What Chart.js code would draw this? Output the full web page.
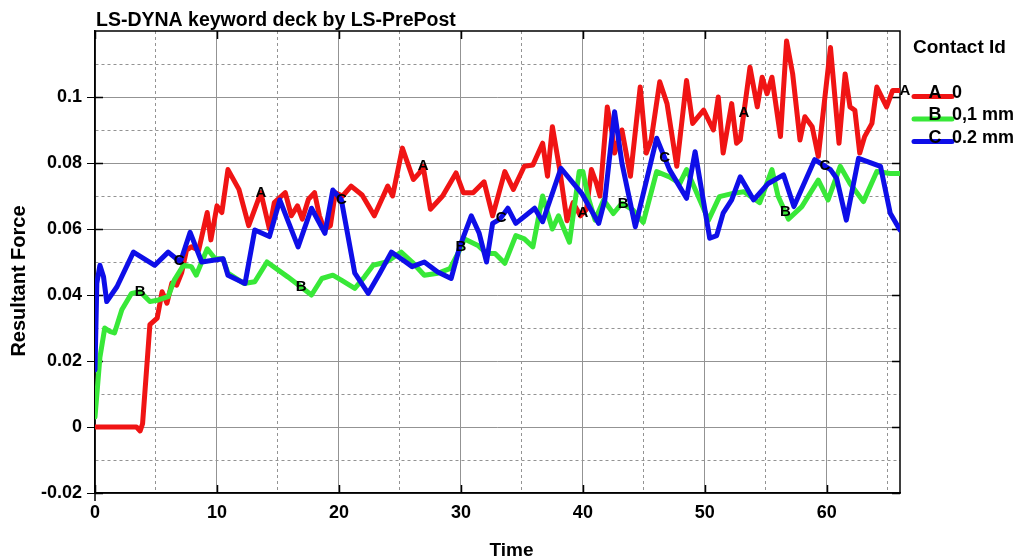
<!DOCTYPE html>
<html>
<head>
<meta charset="utf-8">
<script src="https://cdn.jsdelivr.net/npm/chart.js@4.4.0/dist/chart.umd.min.js"></script>
<style>
  html, body { margin: 0; padding: 0; background: #fff; overflow: hidden; }
  #wrap { width: 1025px; height: 558px; position: relative; }
</style>
</head>
<body>
<div id="wrap"><canvas id="c" width="1025" height="558"></canvas></div>
<script>
// Contact force histories (time, resultant force) for three contact ids
const timeA = [0,3.4,3.7,3.9,4.5,5.1,5.5,5.9,6.3,6.7,7.1,7.5,7.9,8.5,9.2,9.5,10.0,10.4,10.9,11.8,12.6,13.1,13.6,14.3,14.7,15.6,16.1,16.6,17.0,17.5,18.0,18.4,18.8,19.3,19.7,20.3,21.0,21.9,22.9,24.0,24.4,25.2,26.1,26.6,26.9,27.5,28.5,29.6,30.2,31.0,31.9,32.6,33.6,34.3,35.2,35.9,36.7,37.1,37.5,38.1,38.7,39.2,39.8,40.3,40.7,41.1,41.4,42.0,42.4,42.6,43.2,43.9,44.7,45.2,45.6,46.3,46.9,47.7,48.5,49.0,49.9,50.7,51.1,51.5,52.2,52.6,52.9,53.7,54.3,54.7,55.1,55.5,56.2,56.7,57.2,57.8,58.2,58.8,59.3,60.3,61.0,61.5,61.9,62.3,62.7,63.1,63.7,64.1,64.9,65.4,66.0];
const forceA = [0,0,-0.0012,0.001,0.031,0.033,0.041,0.0375,0.0436,0.043,0.0467,0.0536,0.0546,0.0536,0.065,0.0567,0.067,0.065,0.078,0.072,0.061,0.066,0.071,0.060,0.068,0.071,0.064,0.067,0.063,0.069,0.071,0.064,0.060,0.061,0.071,0.070,0.073,0.0703,0.064,0.073,0.070,0.0845,0.075,0.077,0.079,0.066,0.070,0.077,0.071,0.071,0.0743,0.064,0.0774,0.072,0.079,0.0794,0.086,0.076,0.091,0.078,0.0625,0.068,0.064,0.066,0.078,0.074,0.070,0.097,0.089,0.083,0.090,0.076,0.103,0.083,0.087,0.1046,0.098,0.079,0.105,0.092,0.096,0.090,0.100,0.083,0.098,0.086,0.087,0.109,0.097,0.106,0.101,0.106,0.088,0.117,0.107,0.087,0.094,0.091,0.082,0.115,0.086,0.107,0.097,0.096,0.083,0.088,0.092,0.103,0.097,0.102,0.102];

const timeB = [0,0.4,0.8,1.2,1.6,2.2,3.0,3.7,4.5,5.2,6.0,6.5,7.25,7.9,8.3,9.2,9.85,10.5,10.9,12.2,13.1,14.1,15.8,17.75,18.6,19.5,20.2,21.3,22.1,22.8,23.9,25.1,26.0,27.0,28.1,29.1,29.9,30.3,31.4,32.1,32.8,33.6,34.5,35.2,35.9,36.7,37.5,38.0,38.9,39.7,40.0,40.4,41.0,41.7,42.5,43.2,44.1,44.95,46.05,47.1,47.95,48.5,50.3,51.2,52.3,53.2,54.5,55.5,56.0,56.85,57.95,59.3,60.1,61.1,61.9,63.0,64.1,65.2,66.0];
const forceB = [0.003,0.021,0.030,0.029,0.0285,0.0355,0.0405,0.041,0.038,0.0385,0.0395,0.0445,0.049,0.0486,0.046,0.054,0.051,0.051,0.0466,0.0435,0.044,0.050,0.0455,0.040,0.045,0.046,0.0445,0.042,0.0455,0.049,0.050,0.053,0.050,0.046,0.0466,0.048,0.0536,0.057,0.055,0.0526,0.0526,0.0496,0.058,0.057,0.0546,0.070,0.060,0.064,0.056,0.0774,0.0774,0.070,0.0627,0.0688,0.0647,0.0678,0.0658,0.062,0.0774,0.0758,0.0738,0.078,0.0627,0.0698,0.0708,0.0713,0.068,0.078,0.070,0.063,0.0668,0.0748,0.0688,0.079,0.0738,0.0683,0.0774,0.0768,0.0768];

const timeC = [0,0.15,0.4,0.7,0.96,1.8,3.15,4.9,6.0,7.0,7.8,8.75,10.5,10.9,12.3,13.1,14.3,15.15,16.65,17.75,18.85,19.5,20.2,21.3,22.4,23.35,24.3,25.1,26.0,27.0,28.1,29.2,29.9,30.85,31.5,32.1,32.6,33.2,33.85,34.5,36.05,36.7,38.2,39.9,41.3,41.8,42.6,43.2,44.3,46.05,47.1,48.5,49.2,50.4,50.97,51.5,52.2,52.9,54.0,55.2,56.45,57.3,59.0,60.3,60.8,61.6,62.6,64.4,65.2,66.0];
const forceC = [0.0173,0.0435,0.049,0.0455,0.038,0.0425,0.053,0.049,0.053,0.050,0.059,0.050,0.051,0.046,0.0435,0.0597,0.0577,0.0688,0.0546,0.0663,0.0587,0.0718,0.0688,0.0466,0.0405,0.0466,0.053,0.051,0.0486,0.050,0.047,0.045,0.0546,0.064,0.0587,0.050,0.0617,0.063,0.0663,0.0617,0.0663,0.0622,0.0784,0.0708,0.0617,0.0688,0.0955,0.080,0.0607,0.0875,0.078,0.0693,0.0834,0.0572,0.058,0.0648,0.0688,0.0758,0.0688,0.0738,0.0764,0.0668,0.081,0.078,0.0754,0.0627,0.0814,0.079,0.0648,0.0597];

// Times at which each curve carries its id letter
const tagTimesA = [13.6, 26.9, 40.0, 53.2, 66.4];
const tagTimesB = [3.7, 16.9, 30.0, 43.3, 56.6];
const tagTimesC = [6.9, 20.2, 33.3, 46.7, 59.85];

const seriesTags = ['A', 'B', 'C'];
const seriesNames = ['0', '0,1 mm', '0.2 mm'];

// Labelled tick values
const xMajor = [0, 10, 20, 30, 40, 50, 60];
const yMajor = [-0.02, 0, 0.02, 0.04, 0.06, 0.08, 0.1];

const chartTitle = 'LS-DYNA keyword deck by LS-PrePost';
const xTitle = 'Time';
const yTitle = 'Resultant Force';
const legendTitle = 'Contact Id';

const FONT = "'Liberation Sans', Arial, Helvetica, sans-serif";
const colors = ['#f01414', '#38e838', '#0e0ee8'];

const isXMajor = v => xMajor.some(m => Math.abs(m - v) < 1e-6);
const isYMajor = v => yMajor.some(m => Math.abs(m - v) < 1e-6);
const fmtY = v => String(Number(v.toFixed(2)));

function valueAt(ts, vs, t) {
  if (t <= ts[0]) return vs[0];
  if (t >= ts[ts.length - 1]) return vs[vs.length - 1];
  for (let i = 1; i < ts.length; i++) {
    if (t <= ts[i]) {
      const f = (t - ts[i - 1]) / (ts[i] - ts[i - 1]);
      return vs[i - 1] + f * (vs[i] - vs[i - 1]);
    }
  }
  return vs[vs.length - 1];
}

const curves = [
  { t: timeA, v: forceA, tags: tagTimesA },
  { t: timeB, v: forceB, tags: tagTimesB },
  { t: timeC, v: forceC, tags: tagTimesC }
];

const decorations = {
  id: 'decorations',
  beforeDatasetsDraw(chart) {
    const { ctx, chartArea: a, scales: { x, y } } = chart;
    ctx.save();
    ctx.strokeStyle = '#000';
    ctx.lineWidth = 1.5;
    ctx.strokeRect(a.left, a.top, a.right - a.left, a.bottom - a.top);
    ctx.beginPath();
    xMajor.forEach(v => {
      const px = Math.round(x.getPixelForValue(v)) + 0.5;
      ctx.moveTo(px, a.bottom); ctx.lineTo(px, a.bottom - 8);
      ctx.moveTo(px, a.top); ctx.lineTo(px, a.top + 8);
    });
    yMajor.forEach(v => {
      const py = Math.round(y.getPixelForValue(v)) + 0.5;
      ctx.moveTo(a.left, py); ctx.lineTo(a.left + 8, py);
      ctx.moveTo(a.right, py); ctx.lineTo(a.right - 8, py);
    });
    ctx.moveTo(a.left, a.bottom); ctx.lineTo(a.left, a.bottom + 8);
    ctx.stroke();
    ctx.restore();
  },
  afterDatasetsDraw(chart) {
    const { ctx, scales: { x, y } } = chart;
    ctx.save();
    ctx.fillStyle = '#000';
    ctx.font = 'bold 15px ' + FONT;
    ctx.textAlign = 'center';
    ctx.textBaseline = 'middle';
    curves.forEach((c, i) => {
      c.tags.forEach(t => {
        const px = x.getPixelForValue(t);
        const py = y.getPixelForValue(valueAt(c.t, c.v, t));
        ctx.fillText(seriesTags[i], px, py);
      });
    });
    ctx.restore();
  },
  afterDraw(chart) {
    const { ctx, chartArea: a } = chart;
    ctx.save();
    ctx.fillStyle = '#000';
    ctx.textBaseline = 'alphabetic';
    ctx.textAlign = 'left';
    ctx.font = 'bold 19.5px ' + FONT;
    ctx.fillText(chartTitle, a.left + 1, 26);

    ctx.font = 'bold 19px ' + FONT;
    ctx.textAlign = 'center';
    ctx.fillText(xTitle, (a.left + a.right) / 2 + 14, 556);

    ctx.save();
    ctx.font = 'bold 20px ' + FONT;
    ctx.translate(25, (a.top + a.bottom) / 2 + 19);
    ctx.rotate(-Math.PI / 2);
    ctx.fillText(yTitle, 0, 0);
    ctx.restore();

    // legend
    const lx = a.right + 12;
    ctx.font = 'bold 19px ' + FONT;
    ctx.textAlign = 'left';
    ctx.fillText(legendTitle, lx + 1, 53);
    ctx.font = 'bold 18px ' + FONT;
    seriesNames.forEach((name, i) => {
      const ly = 96.5 + i * 22.5;
      ctx.strokeStyle = colors[i];
      ctx.lineWidth = 5;
      ctx.lineCap = 'round';
      ctx.beginPath();
      ctx.moveTo(lx + 2, ly); ctx.lineTo(lx + 40, ly);
      ctx.stroke();
      ctx.fillStyle = '#000';
      ctx.textAlign = 'center';
      ctx.fillText(seriesTags[i], lx + 23, ly + 1);
      ctx.textAlign = 'left';
      ctx.fillText(name, lx + 40, ly + 1);
    });
    ctx.restore();
  }
};

const gridColor = '#939393';

new Chart(document.getElementById('c'), {
  type: 'line',
  data: {
    datasets: curves.map((c, i) => ({
      label: seriesNames[i],
      data: c.t.map((t, k) => ({ x: t, y: c.v[k] })),
      borderColor: colors[i],
      backgroundColor: colors[i],
      borderWidth: 5,
      pointRadius: 0,
      tension: 0,
      fill: false,
      borderJoinStyle: 'round',
      borderCapStyle: 'round',
      order: 3 - i
    }))
  },
  options: {
    responsive: false,
    animation: false,
    devicePixelRatio: 1,
    layout: { padding: { top: 31, right: 125, left: 0, bottom: 0 } },
    plugins: { legend: { display: false }, tooltip: { enabled: false }, title: { display: false } },
    scales: {
      x: {
        type: 'linear',
        min: 0,
        max: 66,
        afterFit(s) { s.height = 65; },
        ticks: {
          stepSize: 5,
          includeBounds: false,
          autoSkip: false,
          maxRotation: 0,
          padding: 9,
          color: '#000',
          font: { family: FONT, size: 18, weight: 'bold' },
          callback: v => (isXMajor(v) ? String(v) : '')
        },
        grid: {
          drawTicks: false,
          lineWidth: 1,
          color: ctx => (ctx.tick && ctx.tick.value > 0 && ctx.tick.value < 66 ? gridColor : 'rgba(0,0,0,0)')
        },
        border: {
          display: true,
          color: '#000',
          width: 1.5,
          dash: ctx => (ctx.tick && !isXMajor(ctx.tick.value) ? [3, 3] : [])
        }
      },
      y: {
        type: 'linear',
        min: -0.02,
        max: 0.12,
        afterFit(s) { s.width = 95; },
        ticks: {
          stepSize: 0.01,
          includeBounds: false,
          autoSkip: false,
          padding: 5,
          color: '#000',
          font: { family: FONT, size: 18, weight: 'bold' },
          callback: v => (isYMajor(v) ? fmtY(v) : '')
        },
        grid: {
          drawTicks: true,
          tickLength: 8,
          lineWidth: 1,
          tickColor: ctx => (ctx.tick && isYMajor(ctx.tick.value) ? '#000' : 'rgba(0,0,0,0)'),
          color: ctx => (ctx.tick && ctx.tick.value > -0.0199 && ctx.tick.value < 0.1199 ? gridColor : 'rgba(0,0,0,0)')
        },
        border: {
          display: true,
          color: '#000',
          width: 1.5,
          dash: ctx => (ctx.tick && !isYMajor(ctx.tick.value) ? [3, 3] : [])
        }
      }
    }
  },
  plugins: [decorations]
});
</script>
</body>
</html>
